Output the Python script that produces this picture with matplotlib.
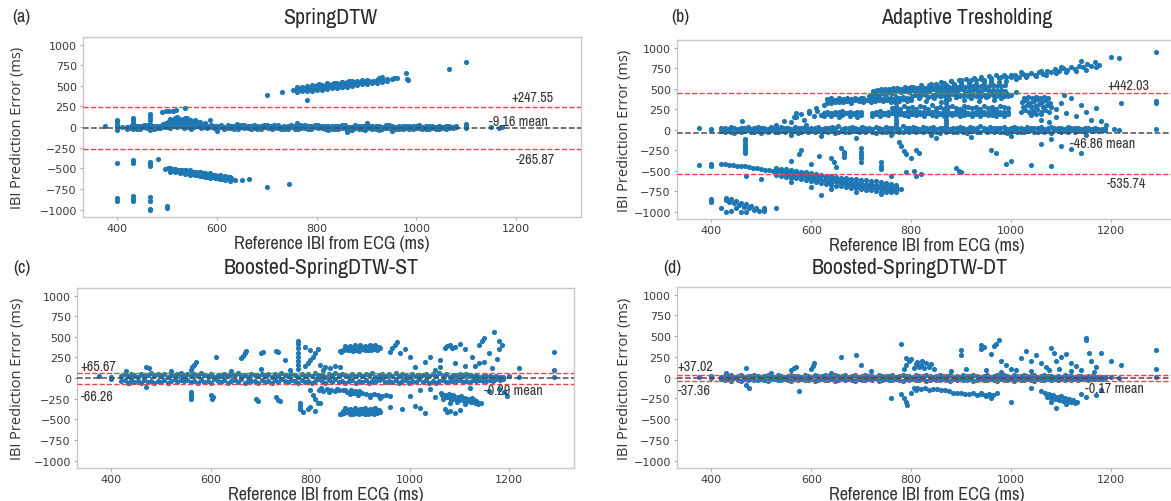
import os
import matplotlib.pyplot as plt
import matplotlib.font_manager as fm

DOT = '#1f77b4'

# limits of agreement for each detector: (mean, lower, upper)
stats_a = (-9.16, -265.87, 247.55)
stats_b = (-46.86, -535.74, 442.03)
stats_c = (-0.29, -66.26, 65.67)
stats_d = (-0.17, -37.36, 37.02)

titles = ['SpringDTW', 'Adaptive Tresholding',
          'Boosted-SpringDTW-ST', 'Boosted-SpringDTW-DT']
tags = ['(a)', '(b)', '(c)', '(d)']

# reference IBI positions along the dense band around zero error
band_x = [420, 427, 433, 440, 446, 453, 460, 466, 473, 480,
          486, 493, 500, 506, 513, 520, 527, 533, 540, 547,
          553, 560, 567, 574, 580, 587, 594, 600, 607, 614,
          621, 627, 634, 641, 648, 654, 661, 668, 675, 681,
          688, 695, 702, 708, 715, 722, 729, 735, 742, 749,
          756, 762, 769, 776, 783, 789, 796, 803, 810, 816,
          823, 830, 837, 843, 850, 857, 864, 870, 877, 884,
          891, 897, 904, 911, 918, 924, 931, 938, 945, 951,
          958, 965, 972, 978, 985, 992, 999, 1005, 1012, 1019,
          1026, 1032, 1039, 1046, 1053, 1059, 1066, 1073, 1080, 1086,
          1093, 1100, 1107, 1113, 1120, 1127, 1134, 1140, 1147, 1154,
          1161, 1167, 1174, 1181, 1188]

# ---------------- (a) SpringDTW ----------------
a_zero_y = [5, -10, 15, -20, 10, -5, 20, -15, 0, 10,
            -10, 20, 30, 15, 35, 25, 40, 20, 30, 15,
            25, 10, 20, -5, 15, 0, -15, 10, -5, 5,
            -10, 15, -20, 5, -5, 20, -15, 10, 0, -20,
            10, -5, 15, -10, 20, -15, 5, -25, 10, 0,
            -20, 15, -10, 20, -25, 10, -5, 25, -15, 5,
            -30, 10, -20, 15, -10, 20, -35, 5, -15, 10,
            -25, 0, 15, -20, 10, -30, 5, -10, 20, -15,
            0, -25, 10, -15, 5, -20, 15, -10, 0, -25,
            10, -15, 5, -20, 0, 10, -10, 5, -5]
a_zero2_y = [-20, 15, -15, 10, -20, 25, -10, 15, -25, -15,
             15, -5, 5, -10, 10, -5, 15, -10, 5, -20,
             -5, 30, -10, 20, -15, 25, 10, -20, 20, -25,
             20, -15, 10, -25, 25, -10, 15, -20, 25, 10,
             -20, 20, -15, 15, -10, 20, -25, 10, -20, 25,
             15, -20, 20, -15, 10, -25, 20, -10, 15, -25,
             10, -25, 15, -20, 25, -15, 5, -30, 20, -20,
             15, -30, -15, 10, -25, 10, -20, 20, -15, 15,
             -25, 15, -20, 10, -25, 15, -15, 20, -20, 10,
             -20, 15, -25, 10, -15, -20, 15, -15, 10]
a_zero3_y = [0, 5, -5, 10, -10, 5, 0, -5, 10, -10,
             5, 10, 45, 50, 55, 60, 50, 55, 45, 40,
             35, 30, 5, 0, -5, 10, 5, -10, 0, 5,
             -5, 0, 10, -10, 5, 0, -5, 10, -10, 0,
             5, -5, 0, 10, -5, 5, -10, 0, 5, -5,
             0, -10, 5, 0, 10, -5, 0, 5, -5, 10,
             0, -5, 5, -10, 0, 5, -5, 0, 10, -5,
             0, 10, -5, 5, 0, -10, 5, 0, -5, 5,
             -10, 0, 5, -5, 10, 0, -5, 5, 0, -10,
             5, 0, -5, 10, 0, -5, 5, 0, -5]
a_blob_x = [492, 498, 504, 510, 516, 522, 528, 534, 540, 546, 552, 558,
            500, 507, 514, 521, 528, 535, 542, 549, 556, 563,
            505, 515, 525, 535, 545, 555, 565, 575, 520, 540]
a_blob_y = [40, 55, 70, 85, 60, 90, 75, 95, 65, 80, 50, 70,
            20, 30, 45, 25, 40, 35, 30, 45, 25, 35,
            100, 110, 95, 105, 90, 85, 60, 40, 120, 115]
a_up_x = [752, 760, 768, 776, 784, 792, 800, 808, 816, 824, 832, 840, 848,
          856, 864, 872, 880, 888, 896, 904, 912, 920, 930, 940, 950, 960,
          780, 790, 800, 810, 820, 830, 840, 850, 860, 870,
          790, 805, 820, 835, 850, 865]
a_up_y = [451, 462, 458, 472, 468, 483, 478, 494, 489, 505, 500, 515, 511,
          526, 521, 537, 532, 548, 543, 558, 553, 569, 565, 582, 578, 590,
          435, 442, 450, 455, 462, 470, 475, 482, 490, 495,
          508, 518, 530, 540, 548, 558]
a_up2_x = [760, 770, 780, 790, 800, 810, 820, 830, 840, 850, 860, 870, 880,
           890, 900, 910, 920, 930, 940]
a_up2_lo = [430, 440, 445, 450, 460, 465, 470, 480, 485, 490, 500, 505, 510,
            520, 525, 535, 540, 550, 555]
a_up2_hi = [480, 488, 495, 502, 508, 515, 522, 528, 535, 542, 549, 555, 562,
            570, 575]
a_low_x = [495, 502, 509, 516, 523, 530, 537, 544, 551, 558, 565, 572, 579,
           586, 593, 600, 607, 614, 621, 628, 636,
           520, 530, 540, 550, 560, 570, 580, 590, 600, 610,
           545, 565, 585, 605, 650, 665]
a_low_y = [-505, -500, -510, -505, -515, -520, -525, -530, -540, -545, -555,
           -560, -565, -575, -580, -590, -595, -600, -610, -615, -640,
           -535, -545, -555, -565, -580, -590, -600, -610, -620, -625,
           -520, -540, -560, -575, -640, -630]
a_low2_x = [505, 515, 525, 535, 545, 555, 565, 575, 585, 595, 605, 615, 625]
a_low2_hi = [-495, -505, -515, -522, -530, -540, -550, -560, -570, -578,
             -588, -597, -606]
a_low2_lo = [-540, -550, -558, -567, -577, -586, -595, -605, -614, -623,
             -632, -642, -650]
a_sparse = [(375, 10), (400, -30), (400, 0), (400, 30), (400, 60), (400, 90),
            (410, 0), (432, -20), (432, 20), (432, 50), (432, 80), (432, 110),
            (445, 5), (455, -5), (466, -40), (466, 0), (466, 40), (466, 80),
            (466, 120), (466, 160), (480, 0), (490, 185), (497, 190),
            (504, 195), (511, 200), (518, 205), (535, 230), (545, 70),
            (560, 60), (575, 45), (585, 90), (600, -50), (640, 40), (700, 20),
            (710, -20), (760, 50), (860, -55), (900, 45), (950, -50),
            (1100, -10), (1100, 20), (1100, 40), (1150, 5), (1165, -10),
            (1172, 0), (700, 390), (730, 425), (780, 325), (925, 590),
            (930, 610), (955, 600), (978, 650), (980, 580), (983, 565),
            (1065, 700), (1100, 790),
            (400, -430), (432, -400), (432, -420), (432, -440), (466, -420),
            (466, -450), (466, -470), (482, -390), (700, -725), (745, -690),
            (400, -860), (400, -900), (432, -840), (432, -870), (432, -890),
            (466, -850), (466, -900), (466, -990), (466, -1010), (500, -960),
            (500, -980)]

# ---------------- (b) Adaptive Tresholding ----------------
b_zero_hi = [15, 25, 10, 30, 20, 5, 25, 15, 35, 10,
             20, 30, 15, 25, 10, 35, 20, 5, 30, 15,
             25, 10, 35, 20, 15, 30, 5, 25, 20, 35,
             10, 25, 15, 30, 20, 40, 10, 25, 15, 30,
             20, 10, 35, 15, 25, 5, 30, 20, 10, 35,
             25, 15, 30, 10, 40, 20, 15, 35, 25, 10,
             30, 20, 15, 35, 10, 25, 20, 30, 5, 25,
             15, 35, 20, 10, 30, 25, 15, 40, 20, 10,
             35, 15, 25, 20, 30, 10, 25, 35, 15, 20,
             10, 30, 20, 25, 15, 35, 10, 20, 30, 15,
             25, 20, 10, 30, 15, 25, 20, 10, 15, 20,
             10, 15, 5, 10, 5]
b_zero_lo = [-20, -35, -10, -25, -40, -15, -30, -20, -10, -35,
             -25, -15, -40, -20, -30, -10, -35, -25, -15, -30,
             -10, -30, -20, -40, -25, -15, -35, -20, -30, -10,
             -35, -20, -25, -10, -40, -30, -15, -25, -35, -20,
             -15, -30, -20, -35, -10, -25, -40, -15, -30, -25,
             -20, -40, -15, -30, -25, -10, -35, -20, -30, -15,
             -30, -15, -35, -20, -25, -40, -10, -30, -20, -35,
             -25, -10, -30, -40, -20, -15, -35, -25, -10, -30,
             -15, -35, -20, -25, -30, -40, -15, -20, -35, -25,
             -30, -20, -10, -35, -25, -15, -30, -20, -40, -10,
             -20, -30, -15, -25, -10, -35, -20, -15, -25, -10,
             -15, -5, -20, -10, -5]
b_180_x = [625, 632, 640, 647, 655, 662, 670, 677, 685, 692,
           700, 722, 730, 738, 746, 754, 762, 770, 778, 786,
           794, 802, 810, 818, 826, 834, 842, 850, 858, 866,
           874, 882, 890, 898, 906, 914, 922, 930, 938, 946,
           954, 962, 970, 978, 986, 994]
b_180_y = [160, 185, 170, 195, 155, 180, 200, 165, 185, 150,
           175, 170, 190, 160, 185, 175, 200, 165, 190, 180,
           160, 195, 175, 185, 165, 200, 180, 170, 190, 160,
           185, 175, 195, 165, 180, 190, 170, 185, 160, 195,
           175, 180, 165, 190, 170, 185]
b_200_y = [205, 215, 200, 220, 210, 225, 205, 215, 200, 210,
           220, 205, 215, 225, 200, 210, 220, 205, 215, 200,
           225, 210, 205, 220, 215, 200, 210, 225, 205, 215,
           220, 200, 210, 215, 225, 205, 200, 220, 210, 215,
           205, 225, 200, 215, 210, 220]
b_270_x = [762, 770, 778, 786, 794, 802, 810, 818, 826, 834, 842, 850, 858,
           866, 874, 882, 890, 898, 906, 914, 922, 930, 938, 946, 954, 962,
           970, 978, 986, 994]
b_270_y = [260, 280, 250, 290, 265, 275, 245, 285, 270, 255, 295, 260, 280,
           250, 275, 290, 265, 255, 285, 270, 260, 280, 250, 290, 265, 275,
           255, 285, 270, 260]
b_410_y = [410, 420, 400, 425, 415, 405, 420, 410, 430, 400, 415, 425, 405,
           420, 410, 430, 400, 415, 420, 405, 425, 410, 400, 420, 415, 430,
           405, 420, 410, 415]
b_350_x = [632, 640, 648, 656, 664, 672, 680, 688, 696, 704, 712, 720, 728,
           736, 744, 752, 760, 768, 776, 784, 792, 800, 815, 830, 845, 860,
           875, 890, 905, 920, 935, 950, 965, 980]
b_350_y = [330, 345, 335, 360, 340, 350, 330, 355, 345, 335, 360, 340, 350,
           365, 345, 355, 340, 360, 350, 370, 345, 360, 380, 350, 390, 340,
           370, 395, 355, 380, 345, 400, 365, 385]
b_380_y = [370, 380, 365, 385, 375, 390, 370, 380, 375, 385,
           365, 390, 375, 380, 370, 385, 390, 375, 380, 395,
           385, 390, 410, 420, 425, 415, 430, 420, 425, 410,
           430, 420, 415, 425]
b_470_x = [724, 732, 740, 748, 756, 764, 772, 780, 788, 796, 804, 812, 820,
           828, 836, 844, 852, 860, 868, 876, 884, 892, 900, 908, 916, 924,
           932, 940, 948, 956, 964, 972, 980, 988]
b_470_y = [440, 455, 465, 450, 470, 460, 480, 465, 475, 455, 485, 470, 460,
           480, 470, 490, 465, 475, 485, 470, 480, 465, 490, 475, 470, 485,
           480, 470, 490, 475, 480, 470, 485, 475]
b_500_y = [470, 480, 490, 495, 500, 505, 510, 500, 515, 505,
           520, 510, 515, 505, 520, 510, 525, 515, 510, 520,
           525, 515, 530, 520, 525, 530, 520, 535, 525, 530,
           540, 530, 535, 540]
b_mid_x = [810, 825, 840, 855, 870, 885, 900, 915, 930, 945, 960, 975, 990]
b_mid_y = [490, 500, 510, 520, 525, 535, 545, 550, 560, 570, 575, 585, 590]
b_top_x = [565, 580, 595, 610, 625, 640, 655, 670, 685, 700, 715, 730, 745,
           760, 775, 790, 805, 820, 835, 850, 865, 880, 895, 910, 925, 940,
           955, 970, 985, 1000, 800, 820, 840, 860, 880, 900, 920, 940, 960,
           980]
b_top_y = [150, 190, 230, 265, 300, 320, 340, 360, 375, 390, 405, 420, 435,
           450, 470, 490, 505, 520, 540, 555, 570, 590, 605, 615, 630, 640,
           650, 660, 665, 660, 520, 540, 555, 575, 590, 600, 610, 620, 630,
           640]
b_top2_x = [720, 735, 750, 765, 780, 795, 810, 825, 840, 855, 870, 885, 900,
            915, 930, 945, 960, 975, 990, 1000]
b_top2_y = [410, 420, 430, 445, 455, 470, 480, 495, 510, 525, 540, 555, 570,
            585, 600, 610, 620, 630, 640, 640]
b_right_x = [1000, 1008, 1016, 1024, 1032, 1040, 1048, 1056, 1064, 1072,
             1080, 1088, 1096, 1104, 1112, 1120, 1128, 1136, 1144, 1152,
             1160, 1168, 1176, 1010, 1030, 1050, 1070, 1090, 1110, 1130,
             1150, 1170, 1020, 1060, 1100, 1140, 1200, 1215]
b_right_y = [650, 665, 640, 680, 660, 690, 670, 700, 680, 720,
             700, 740, 715, 750, 730, 760, 740, 780, 760, 800,
             770, 820, 790, 620, 640, 650, 660, 690, 700, 720,
             730, 760, 700, 720, 760, 830, 880, 875]
b_blob_x = [1020, 1028, 1036, 1044, 1052, 1060, 1068, 1076,
            1024, 1032, 1040, 1048, 1056, 1064, 1072, 1080,
            1022, 1030, 1038, 1046, 1054, 1062, 1070, 1078,
            1026, 1034, 1042, 1050, 1058, 1066, 1074, 1040, 1050, 1060]
b_blob_y = [220, 240, 210, 230, 250, 220, 240, 210,
            280, 300, 270, 290, 310, 280, 300, 270,
            340, 360, 330, 350, 370, 340, 360, 330,
            390, 400, 380, 395, 385, 400, 380, 180, 190, 185]
b_low_x = [420, 428, 436, 444, 452, 460, 468, 476, 484, 492, 500, 508, 516,
           524, 532, 540, 548, 556, 564, 572, 580, 588, 596, 604, 612, 620,
           628, 636, 644, 652, 660, 668, 676, 684, 692, 700, 708, 716, 724,
           732, 740, 748, 756, 764, 772, 780]
b_low_y = [-420, -425, -430, -435, -440, -445, -450, -455, -465, -470, -480,
           -490, -495, -505, -510, -520, -530, -540, -550, -555, -565, -570,
           -580, -590, -600, -610, -615, -625, -630, -640, -650, -655, -665,
           -670, -680, -685, -690, -700, -705, -710, -715, -720, -720, -725,
           -730, -730]
b_low2_x = [530, 540, 550, 560, 570, 580, 590, 600, 610, 620, 630, 640, 650,
            660, 670, 680, 690, 700, 710, 720, 730, 740, 750, 760, 770]
b_low2_hi = [-480, -490, -500, -510, -520, -530, -540, -550, -560, -570,
             -580, -590, -600, -610, -620, -630, -640, -650, -660, -665,
             -675, -680, -690, -700, -705]
b_low2_top = [-470, -475, -485, -495, -505, -515, -520, -530, -540, -550,
              -560, -565, -575, -585, -590, -600, -605, -610, -620, -625,
              -630, -640, -650, -660, -670]
b_low2_lo = [-550, -560, -575, -585, -595, -605, -615, -630, -640, -650,
             -660, -670, -685, -690, -700, -710, -715, -725, -735, -740,
             -750, -755, -760, -760, -765]
b_sparse = [(375, 20), (400, -10), (400, 10), (462, 110), (530, 60),
            (545, 110), (560, 90), (570, 150), (585, 120), (595, 200),
            (605, 160), (612, 230), (620, 180), (570, 200), (590, 60),
            (770, 40), (770, 80), (770, 120), (770, 160), (770, 200),
            (770, 240), (770, 280), (770, 320), (770, 360), (770, 400),
            (870, 40), (870, 80), (870, 120), (870, 160), (870, 200),
            (870, 240), (870, 280), (870, 320), (870, 360), (870, 400),
            (870, 430), (1090, 250), (1100, 330), (1110, 200), (1120, 380),
            (1130, 160), (1140, 300), (1150, 220), (1160, 120), (1170, 260),
            (1090, 150), (1105, 420), (1180, 100), (1190, 50), (1220, 330),
            (1290, 350), (1290, 330), (1290, 940), (1290, 10), (1205, 10),
            (1215, 0), (1000, 420), (990, 440), (1010, 460), (1060, 120),
            (1075, 90),
            (470, -560), (500, -600), (560, -640), (600, -700), (620, -800),
            (640, -720), (690, -760), (740, -780),
            (400, -850), (400, -870), (400, -880), (430, -840), (430, -860),
            (436, -880), (440, -850), (445, -900), (450, -870), (455, -920),
            (460, -890), (465, -940), (470, -910), (475, -960), (480, -930),
            (485, -980), (490, -950), (495, -990), (470, -1000), (460, -1010),
            (450, -960), (440, -990), (505, -950), (505, -970), (505, -990),
            (530, -960), (420, -960), (430, -1000), (400, -420), (400, -440),
            (375, -430),
            (468, -110), (468, -140), (468, -170), (468, -200), (468, -230),
            (468, -260), (468, -280), (560, -380), (575, -300), (580, -250),
            (600, -420), (615, -320), (640, -350), (645, -400), (650, -460),
            (660, -230), (665, -270), (665, -300), (665, -330), (700, -230),
            (700, -270), (700, -310), (700, -350), (700, -390), (740, -400),
            (740, -440), (740, -480), (775, -150), (780, -200), (785, -260),
            (790, -300), (800, -350), (810, -250), (815, -280), (805, -500),
            (820, -540), (810, -560), (790, -520), (760, -560), (840, -60),
            (850, -100), (890, -470), (895, -500), (900, -520), (960, -250),
            (970, -290), (990, -420), (1000, -380), (1040, -430), (1060, -180),
            (1080, -440), (1100, -200), (1120, -240), (1140, -280), (920, -90),
            (1000, -80), (1080, -120), (1150, -60), (560, -60), (620, -80),
            (690, -100), (760, -60)]

# ---------------- (c) Boosted-SpringDTW-ST ----------------
c_zero_hi = [30, 45, 20, 55, 35, 15, 50, 25, 40, 60,
             20, 45, 30, 55, 15, 40, 25, 50, 35, 20,
             55, 30, 45, 20, 60, 35, 25, 50, 15, 40,
             30, 55, 20, 45, 35, 60, 25, 40, 15, 50,
             35, 20, 55, 30, 45, 15, 50, 25, 60, 40,
             25, 50, 35, 15, 55, 30, 45, 20, 60, 35,
             40, 15, 50, 30, 60, 25, 45, 35, 20, 55,
             30, 50, 20, 45, 35, 60, 15, 40, 55, 25,
             45, 30, 60, 20, 50, 35, 15, 55, 25, 40,
             35, 55, 25, 45, 20, 60, 30, 50, 15, 40,
             30, 45, 20, 50, 35, 25, 40, 15, 30, 20,
             25, 15, 20, 10, 15]
c_zero_lo = [-40, -25, -55, -15, -45, -30, -60, -20, -50, -35,
             -55, -30, -45, -20, -60, -35, -15, -50, -25, -40,
             -25, -50, -35, -60, -20, -45, -30, -55, -15, -40,
             -45, -20, -55, -35, -25, -50, -15, -60, -30, -40,
             -30, -55, -20, -45, -35, -60, -25, -50, -15, -40,
             -50, -25, -40, -60, -20, -45, -30, -55, -35, -15,
             -35, -60, -25, -50, -15, -45, -30, -55, -40, -20,
             -55, -30, -45, -20, -60, -35, -50, -25, -15, -45,
             -30, -50, -20, -60, -40, -25, -55, -35, -45, -15,
             -45, -20, -55, -30, -60, -35, -25, -50, -40, -30,
             -40, -25, -50, -30, -45, -20, -35, -25, -40, -30,
             -20, -30, -15, -25, -10]
c_up_x = [860, 866, 872, 878, 884, 890, 896, 902, 908, 914, 920, 926, 932,
          938, 870, 880, 890, 900, 910, 920, 930, 875, 895, 915, 935]
c_up_y = [330, 345, 360, 350, 365, 370, 355, 375, 360, 380, 365, 385, 370,
          375, 385, 390, 395, 400, 390, 400, 395, 340, 350, 345, 355]
c_dn_x = [860, 866, 872, 878, 884, 890, 896, 902, 908, 914, 920, 926, 932,
          938, 870, 880, 890, 900, 910, 920, 930, 875, 895, 915, 935]
c_dn_y = [-430, -400, -380, -410, -390, -420, -395, -375, -410, -385, -400,
          -380, -405, -390, -360, -370, -365, -370, -360, -375, -365, -410,
          -420, -415, -410]
c_pair_x = [862, 868, 874, 880, 886, 892, 898, 904, 910, 916, 922, 928, 934,
            940]
c_up2_y = [320, 335, 350, 340, 325, 345, 330, 350, 340, 355, 335, 350, 345,
           360]
c_dn2_y = [-440, -425, -415, -430, -440, -420, -435, -425, -440, -430, -420,
           -435, -425, -415]
c_150_x = [818, 826, 834, 842, 850, 858, 866, 874, 882, 890, 898, 822, 838,
           854, 870, 886]
c_150_y = [-140, -155, -130, -150, -160, -140, -150, -165, -145, -155, -160,
           -120, -165, -130, -140, -170]
c_200_x = [880, 888, 896, 904, 912, 920, 928, 936, 944, 952, 960, 900, 920,
           940]
c_200_y = [-190, -180, -200, -185, -195, -210, -190, -205, -215, -200, -220,
           -170, -230, -240]
c_1100_x = [1062, 1070, 1078, 1086, 1094, 1102, 1110, 1118, 1126, 1134, 1066,
            1074, 1082, 1090, 1098, 1106, 1114, 1122, 1130, 1138, 1080, 1095,
            1110, 1125, 1064, 1072, 1080, 1088, 1096, 1104, 1112, 1120, 1128,
            1136, 1144]
c_1100_y = [-180, -200, -190, -210, -230, -220, -240, -250, -260, -280, -250,
            -230, -260, -250, -270, -260, -280, -290, -300, -320, -300, -290,
            -310, -240, -210, -220, -230, -240, -240, -250, -260, -270, -270,
            -290, -300]
c_sparse = [(375, 20), (400, -10), (400, 10), (430, 90), (435, -60),
            (470, 130), (470, -110), (475, 120), (520, 80), (540, 60),
            (560, 100), (563, 130), (566, 160), (570, 190), (560, -170),
            (560, -200), (560, -230), (560, -250), (600, -200), (605, -230),
            (602, -250), (610, 250), (640, 80), (660, 240), (665, 270),
            (668, 300), (670, 330), (700, 300), (705, 320), (690, -250),
            (695, -280), (700, 110), (730, 330), (735, 320), (730, -230),
            (735, -260), (740, -280), (750, 220), (760, 100),
            (775, 110), (775, 160), (775, 210), (775, 260), (775, 310),
            (775, 360), (775, 410), (775, 450), (780, -300), (780, -340),
            (780, -380), (785, -410), (790, 150), (795, 180), (800, 220),
            (805, 260), (810, 300), (800, 340), (790, 380), (815, 350),
            (820, 160), (830, 140), (840, 120), (850, 150), (860, 130),
            (825, 100), (800, -150), (805, -200), (810, -250), (815, -300),
            (800, -350), (810, -400), (795, -380), (820, -300),
            (960, 320), (965, 360), (970, 400), (975, 440), (980, 300),
            (990, 350), (1000, 260), (1000, -220), (1010, -340), (1020, -360),
            (1030, -420), (985, -380), (960, -350), (1040, 250), (1050, 100),
            (1060, 130), (1070, 360), (1080, 400), (1090, 380), (1100, 410),
            (1110, 350), (1075, 390), (1085, 360), (1070, -380), (1080, -400),
            (1090, -420), (1100, -390), (1075, -410), (1140, 400), (1145, 450),
            (1150, 480), (1170, 560), (1180, 350), (1185, 400), (1180, 450),
            (1160, 300), (1150, 200), (1130, 150), (1190, -170), (1195, -220),
            (1220, 120), (1200, 20), (1220, 10), (1290, 320), (1290, 100),
            (1290, 10), (1010, 130), (1030, 200), (1060, 220), (1090, 180),
            (1110, 150), (1125, 250), (1140, 180), (1165, 120), (1175, 230),
            (1020, -150), (1040, -130), (1050, -230), (1120, -120),
            (1160, -160), (1180, -130)]

# ---------------- (d) Boosted-SpringDTW-DT ----------------
d_zero_hi = [10, 25, 15, 30, 5, 20, 35, 10, 25, 15,
             30, 20, 10, 25, 35, 15, 5, 30, 20, 10,
             25, 35, 15, 20, 10, 30, 25, 5, 35, 20,
             15, 30, 25, 10, 35, 20, 15, 30, 10, 25,
             35, 10, 20, 30, 15, 25, 5, 35, 20, 15,
             25, 30, 10, 20, 35, 15, 25, 10, 30, 20,
             15, 35, 25, 10, 20, 30, 15, 25, 35, 10,
             20, 10, 30, 25, 15, 35, 20, 10, 25, 30,
             10, 25, 35, 15, 30, 20, 10, 35, 15, 25,
             30, 15, 20, 35, 10, 25, 30, 15, 20, 10,
             25, 10, 30, 15, 20, 10, 25, 15, 10, 20,
             15, 10, 5, 10, 5]
d_zero_lo = [-15, -30, -20, -35, -10, -25, -40, -15, -30, -20,
             -35, -25, -15, -30, -40, -20, -10, -35, -25, -15,
             -30, -40, -20, -25, -15, -35, -30, -10, -40, -25,
             -20, -35, -30, -15, -40, -25, -20, -35, -15, -30,
             -40, -15, -25, -35, -20, -30, -10, -40, -25, -20,
             -30, -35, -15, -25, -40, -20, -30, -15, -35, -25,
             -20, -40, -30, -15, -25, -35, -20, -30, -40, -15,
             -25, -15, -35, -30, -20, -40, -25, -15, -30, -35,
             -15, -30, -40, -20, -35, -25, -15, -40, -20, -30,
             -35, -20, -25, -40, -15, -30, -35, -20, -25, -15,
             -30, -15, -35, -20, -25, -15, -30, -20, -15, -25,
             -20, -15, -10, -15, -10]
d_130_x = [812, 820, 828, 836, 844, 852, 860, 868, 876]
d_130_y = [-120, -140, -130, -150, -140, -135, -150, -145, -160]
d_190_x = [884, 892, 900, 908, 916, 924, 932, 940, 948, 956, 964, 972]
d_190_y = [-180, -190, -185, -200, -195, -190, -205, -200, -210, -195, -205,
           -190]
d_1100_x = [1068, 1076, 1084, 1092, 1100, 1108, 1116, 1124, 1132, 1072, 1080,
            1088, 1096, 1104, 1112, 1120, 1128, 1090, 1110, 1080]
d_1100_y = [-180, -200, -210, -230, -220, -250, -260, -270, -290, -230, -250,
            -260, -270, -280, -290, -300, -310, -370, -320, -300]
d_sparse = [(375, 10), (400, -10), (400, 20), (430, 60), (440, -40),
            (470, 110), (475, -120), (470, -90), (520, 60), (560, 90),
            (565, 110), (570, 130), (575, -160), (600, 100), (603, 140),
            (605, 170), (640, 60), (660, 250), (690, 270), (700, 150),
            (720, 80), (760, -250), (780, 410), (785, 100), (790, 150),
            (795, 200), (800, 230), (790, 240), (805, 120), (810, 160),
            (815, 130), (820, 150), (825, 110), (830, 170), (835, 130),
            (840, 160), (845, 100), (812, 190), (822, 200), (780, -200),
            (785, -250), (790, -300), (792, -330), (800, -180), (805, -120),
            (810, -150), (900, 330), (900, 270), (940, 350), (945, 370),
            (940, 390), (965, 380), (970, 410), (975, 450), (960, 280),
            (980, 200), (990, 150), (1000, 100), (1000, -300), (1020, 240),
            (1030, 320), (1040, 200), (1050, 270), (1060, 180), (1070, 130),
            (1080, 360), (1085, 300), (1090, 200), (1100, 250), (1110, 280),
            (1120, 180), (1130, 140), (1150, 450), (1150, 480), (1155, 300),
            (1160, 200), (1170, 130), (1180, 300), (1200, 200), (1220, 150),
            (1290, 330), (1290, 100), (1290, 10), (940, -190), (950, -220),
            (960, -250), (1040, -130), (1060, -160), (1140, -200),
            (1150, -230), (1170, -210), (1180, -150), (1200, 10), (1215, 0),
            (880, 80), (910, 100), (950, 90), (980, 70), (1010, 90),
            (1040, 80), (1075, 90), (1095, 100), (1120, 80), (1140, 90),
            (1165, 70)]


def gather(series, sparse):
    xs, ys = [], []
    for sx, sy in series:
        for x, y in zip(sx, sy):
            xs.append(x)
            ys.append(y)
    for x, y in sparse:
        xs.append(x)
        ys.append(y)
    return xs, ys


panels = [
    gather([(band_x, a_zero_y), (band_x, a_zero2_y), (band_x, a_zero3_y),
            (a_blob_x, a_blob_y), (a_up_x, a_up_y), (a_up2_x, a_up2_lo),
            (a_up2_x, a_up2_hi), (a_low_x, a_low_y), (a_low2_x, a_low2_hi),
            (a_low2_x, a_low2_lo)], a_sparse),
    gather([(band_x, b_zero_hi), (band_x, b_zero_lo), (b_180_x, b_180_y),
            (b_180_x, b_200_y), (b_270_x, b_270_y),
            (b_270_x[5:], b_410_y[5:]), (b_350_x, b_350_y),
            (b_350_x, b_380_y), (b_470_x, b_470_y), (b_470_x, b_500_y),
            (b_mid_x, b_mid_y), (b_top_x, b_top_y), (b_top2_x, b_top2_y),
            (b_right_x, b_right_y), (b_blob_x, b_blob_y),
            (b_low_x, b_low_y), (b_low2_x, b_low2_hi), (b_low2_x, b_low2_top),
            (b_low2_x, b_low2_lo)], b_sparse),
    gather([(band_x, c_zero_hi), (band_x, c_zero_lo), (c_up_x, c_up_y),
            (c_dn_x, c_dn_y), (c_pair_x, c_up2_y), (c_pair_x, c_dn2_y),
            (c_150_x, c_150_y), (c_200_x, c_200_y),
            (c_1100_x, c_1100_y)], c_sparse),
    gather([(band_x, d_zero_hi), (band_x, d_zero_lo), (d_130_x, d_130_y),
            (d_190_x, d_190_y), (d_1100_x, d_1100_y)], d_sparse),
]
stats = [stats_a, stats_b, stats_c, stats_d]


def narrow_font():
    # a condensed face suits the titles and annotations best
    for key in ('Narrow', 'Condensed'):
        for f in fm.fontManager.ttflist:
            base = os.path.basename(f.fname)
            if key in base and 'Bold' not in base and 'Italic' not in base \
                    and 'Oblique' not in base and 'Light' not in base:
                return f.fname
    return fm.findfont(fm.FontProperties(family='Roboto'))


NARROW_FILE = narrow_font()

W, H = 1171, 502
fig = plt.figure(figsize=(W / 100, H / 100), dpi=100)
renderer = fig.canvas.get_renderer()


def fit_size(text, target_px):
    # font size that gives the string the wanted pixel width
    t = fig.text(0, 0, text, fontproperties=fm.FontProperties(fname=NARROW_FILE, size=10))
    w = t.get_window_extent(renderer=renderer).width
    t.remove()
    return 10 * target_px / w


def narrow(size):
    return fm.FontProperties(fname=NARROW_FILE, size=size)


title_widths = [95, 179, 176, 180]
title_size = sum(fit_size(t, w) for t, w in zip(titles, title_widths)) / 4
title_font = narrow(title_size * 1.03)
tag_font = narrow(fit_size('(a)', 18))
xlabel_font = narrow(fit_size('Reference IBI from ECG (ms)', 196))
note_font = narrow(fit_size('+247.55', 42))


def box(left, top, right, bottom):
    return [left / W, 1 - bottom / H, (right - left) / W, (bottom - top) / H]


axes_px = [(83, 38, 581, 218), (677, 41, 1176, 220),
           (77, 289, 574, 469), (677, 288, 1176, 469)]
ylabel_x = [-0.117, -0.09, -0.105, -0.09]
title_px = [(330, 18), (967, 18), (321, 268), (910, 268)]
tag_px = [(21, 17), (680, 17), (22, 268), (672, 268)]

# where the limit labels sit: (x_upper, y_upper, x_mean, y_mean, x_lower, y_lower)
label_pos = [(1190, 366, 1145, 79, 1200, -385),
             (1192, 538, 1118, -162, 1192, -648),
             (338, 152, 1150, -143, 338, -213),
             (332, 137, 1147, -123, 332, -149)]

for i in range(4):
    ax = fig.add_axes(box(*axes_px[i]))
    xs, ys = panels[i]
    ax.scatter(xs, ys, s=14, c=DOT, linewidths=0, zorder=2)
    mean, lo, hi = stats[i]
    ax.axhline(mean, color='#4d4d4d', ls='--', lw=1.1, zorder=3)
    ax.axhline(hi, color='#f2404a', ls='--', lw=1.0, zorder=3)
    ax.axhline(lo, color='#f2404a', ls='--', lw=1.0, zorder=3)
    xu, yu, xm, ym, xl, yl = label_pos[i]
    ax.text(xu, yu, f'{hi:+.2f}', fontproperties=note_font,
            color='#333333', va='center', clip_on=False)
    ax.text(xm, ym, f'{mean:.2f} mean', fontproperties=note_font,
            color='#333333', va='center', clip_on=False)
    ax.text(xl, yl, f'{lo:.2f}', fontproperties=note_font,
            color='#333333', va='center', clip_on=False)

    ax.set_xlim(331, 1330)
    ax.set_ylim(-1090, 1092)
    ax.set_xticks([400, 600, 800, 1000, 1200])
    ax.set_yticks([-1000, -750, -500, -250, 0, 250, 500, 750, 1000])
    ax.tick_params(labelsize=8, length=2.5, pad=2, color='#aaaaaa',
                   labelcolor='#3a3a3a')
    for sp in ax.spines.values():
        sp.set_color('#c8c8c8')
        sp.set_linewidth(1.0)
    ax.set_xlabel('Reference IBI from ECG (ms)', fontproperties=xlabel_font,
                  color='#333333', labelpad=1)
    ax.set_ylabel('IBI Prediction Error (ms)', family='Open Sans',
                  fontsize=10.5, color='#333333')
    ax.yaxis.set_label_coords(ylabel_x[i], 0.5)

    tx, ty = title_px[i]
    fig.text(tx / W, 1 - ty / H, titles[i], fontproperties=title_font,
             color='#2a2a2a', ha='center', va='center')
    gx, gy = tag_px[i]
    fig.text(gx / W, 1 - gy / H, tags[i], fontproperties=tag_font,
             color='#2a2a2a', ha='center', va='center')

fig.savefig('out.png', dpi=100)
